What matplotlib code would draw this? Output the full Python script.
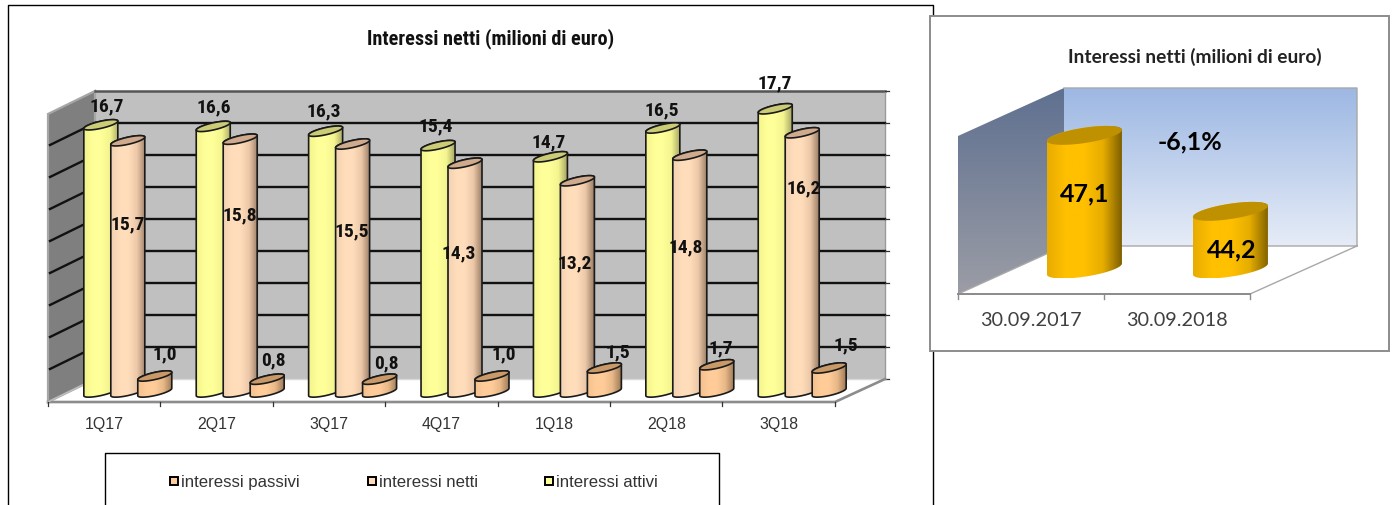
import numpy as np
import matplotlib
matplotlib.use('Agg')
import matplotlib.pyplot as plt
from matplotlib.colors import LinearSegmentedColormap
from matplotlib.patches import Polygon, Rectangle
from matplotlib.path import Path

quarters = ['1Q17', '2Q17', '3Q17', '4Q17', '1Q18', '2Q18', '3Q18']
attivi = [16.7, 16.6, 16.3, 15.4, 14.7, 16.5, 17.7]
netti = [15.7, 15.8, 15.5, 14.3, 13.2, 14.8, 16.2]
passivi = [1.0, 0.8, 0.8, 1.0, 1.5, 1.7, 1.5]

dates = ['30.09.2017', '30.09.2018']
netti_9m = [47.1, 44.2]
variazione = '-6,1%'

grid_values = list(range(0, 20, 2))

# hand placed label offsets in pixels (dx, dy up from the top of the bar)
attivi_off = [(6, 19), (1, 20), (-2, 21), (-2, 20), (-2, 15), (-1, 19), (0, 26)]
netti_off = [(0, -83), (0, -75), (-1, -86), (-6, -89), (-3, -82), (-4, -91), (1, -55)]
passivi_off = [(10, 23), (6, 20), (7, 17), (12, 23), (13, 17), (4, 17), (17, 24)]

W, H = 1394, 506
NARROW = ['Roboto Condensed']
ARIAL = ['Liberation Sans']
CALIBRI = ['Lato', 'Open Sans']


def fmt(v):
    return f'{v:.1f}'.replace('.', ',')


def vgrad(ax, poly, top, bottom, z=1):
    # vertical gradient clipped to a polygon
    xs, ys = zip(*poly)
    cmap = LinearSegmentedColormap.from_list('g', [top, bottom])
    im = ax.imshow(np.linspace(0, 1, 128).reshape(-1, 1), cmap=cmap, aspect='auto',
                   extent=(min(xs), max(xs), max(ys), min(ys)), zorder=z, interpolation='bilinear')
    im.set_clip_path(Polygon(poly, transform=ax.transData))


def cylinder(ax, x, val, base, sx, sy, a, k, b, stops, top_col, edge=None, z=3):
    # sx, sy: pixels per data unit. a, k, b: half width, tilt, half height of the ellipse in pixels
    t = np.linspace(0, np.pi, 60)
    ex = x + a * np.cos(t) / sx
    tilt = k * np.cos(t) / sy
    round_y = b * np.sin(t) / sy
    back_y = val + tilt + round_y
    front_y = val + tilt - round_y
    low_y = base + tilt - round_y

    # outline: back of the top ellipse (right to left), then front of the foot (left to right)
    body = list(zip(ex, back_y)) + list(zip(ex[::-1], low_y[::-1]))
    cmap = LinearSegmentedColormap.from_list('c', stops)
    ys = [p[1] for p in body]
    im = ax.imshow(np.linspace(0, 1, 128).reshape(1, -1), cmap=cmap, aspect='auto',
                   extent=(x - a / sx, x + a / sx, min(ys), max(ys)), zorder=z,
                   interpolation='bilinear', origin='lower')
    im.set_clip_path(Path(body + [body[0]]), ax.transData)
    if edge:
        ax.add_patch(Polygon(body, closed=True, fill=False, ec=edge, lw=1.2, zorder=z))
    cap = list(zip(ex, back_y)) + list(zip(ex[::-1], front_y[::-1]))
    ax.add_patch(Polygon(cap, closed=True, fc=top_col, ec=edge if edge else 'none', lw=1.2, zorder=z))


fig = plt.figure(figsize=(W / 100, H / 100), dpi=100)

# page axes in pixels for frames, walls and legend
page = fig.add_axes([0, 0, 1, 1], zorder=0)
page.set_xlim(0, W)
page.set_ylim(H, 0)
page.axis('off')

# left chart: frame
page.plot([8, 8, 933, 933], [H, 6, 6, H], color='black', lw=1)
page.text(491, 39, 'Interessi netti (milioni di euro)', family=NARROW, weight='bold', fontsize=14.6,
          ha='center', va='center', color='#111111')

# left chart: walls and floor
GRID_Y0, GRID_STEP = 380, 16
top_y = GRID_Y0 - GRID_STEP * grid_values[-1]
page.add_patch(Rectangle((95, top_y), 790, GRID_Y0 - top_y, fc='#c0c0c0', ec='none'))
page.add_patch(Polygon([(48, top_y + 23), (95, top_y), (95, GRID_Y0), (48, GRID_Y0 + 23)], fc='#7f7f7f', ec='#a6a6a6', lw=1.6))
page.plot([95, 885], [top_y, top_y], color='#555555', lw=1.8)
page.plot([885, 885], [top_y, GRID_Y0], color='#9a9a9a', lw=1)
for g in grid_values[1:-1]:
    y = GRID_Y0 - GRID_STEP * g
    page.plot([50, 95], [y + 22, y], color='#111111', lw=1.7)
    page.plot([95, 885], [y, y], color='#111111', lw=1.7)
for g in grid_values:
    y = GRID_Y0 - GRID_STEP * g
    page.plot([885, 889], [y, y], color='#333333', lw=0.9)
page.plot([95, 885], [GRID_Y0, GRID_Y0], color='#d8d8d8', lw=1)
page.plot([48, 835, 885], [403, 403, GRID_Y0], color='#8c8c8c', lw=1.9)
page.plot([48, 95], [403, GRID_Y0], color='#bdbdbd', lw=1)

# legend box
page.plot([105, 105, 719, 719], [H, 454, 454, H], color='black', lw=1)
legend_items = [('interessi passivi', '#ffcc99', 170), ('interessi netti', '#ffddbb', 368), ('interessi attivi', '#ffff99', 545)]
for name, col, lx in legend_items:
    page.add_patch(Rectangle((lx, 478), 8, 8, fc=col, ec='black', lw=1.4))
    page.text(lx + 11, 482.5, name, family=ARIAL, fontsize=12.1, color='#333333', va='center')

# left chart: bars, x is the category position along the floor
SX, SY = 112.4, 16.0
X0, Y0 = 48, 393
ax = fig.add_axes([0, 0, 1, 1], zorder=1)
ax.set_xlim(-X0 / SX, (W - X0) / SX)
ax.set_ylim((Y0 - H) / SY, Y0 / SY)
ax.axis('off')
ax.patch.set_alpha(0)

series = [
    (attivi, 0.47, ['#f4f48c', '#ffff99', '#ffff99', '#f4f490', '#a8a866'], '#cccc77', attivi_off),
    (netti, 0.71, ['#f2d2b2', '#ffddbb', '#ffddbb', '#ecc8a8', '#9c8068'], '#d0aa8c', netti_off),
    (passivi, 0.95, ['#f2c08e', '#ffcc99', '#ffcc99', '#e8b888', '#a07c58'], '#c99a68', passivi_off),
]
for i, q in enumerate(quarters):
    for vals, off, stops, top_col, offs in series:
        x = i + off
        cylinder(ax, x, vals[i], 0, SX, SY, 17, 3.7, 3.6, stops, top_col, edge='#1a1a1a', z=3 + off)
        ax.text(x + offs[i][0] / SX, vals[i] + offs[i][1] / SY, fmt(vals[i]), family=NARROW, weight='bold',
                fontsize=14, ha='center', va='center', color='#111111', zorder=6)
    ax.text(i + 0.5, -31.5 / SY, q, family=ARIAL, fontsize=11.4, ha='center', va='center', color='#333333')
for i in range(len(quarters) + 1):
    ax.plot([i, i], [-10 / SY, -14 / SY], color='#333333', lw=0.9)

# right chart: frame and walls
page.add_patch(Rectangle((930, 17), 459, 334.5, fc='white', ec='#8c8c8c', lw=1.4, zorder=2))
page.text(1195, 57, 'Interessi netti (milioni di euro)', family=CALIBRI, weight='bold', fontsize=13.8,
          ha='center', va='center', color='#222222', zorder=3)
vgrad(page, [(1064, 89), (1357, 89), (1357, 247), (1064, 247)], '#9db8e3', '#e6ecf7', z=3)
vgrad(page, [(958, 137), (1064, 89), (1064, 247), (958, 295)], '#5f7090', '#9b9da6', z=3)
page.plot([1064, 1357, 1357, 1250, 958, 1064, 1357], [89, 89, 247, 295, 295, 247, 247], color='#a8a8a8', lw=1, zorder=4)
page.plot([958, 1250], [295, 295], color='#8c8c8c', lw=1.4, zorder=4)
page.set_xlim(0, W)
page.set_ylim(H, 0)

# right chart: bars on an axis cut at 42
SX2, SY2 = 146.0, 26.2
X02, Y02, BASE2 = 958, 270, 42
ax2 = fig.add_axes([0, 0, 1, 1], zorder=2)
ax2.set_xlim(-X02 / SX2, (W - X02) / SX2)
ax2.set_ylim(BASE2 + (Y02 - H) / SY2, BASE2 + Y02 / SY2)
ax2.axis('off')
ax2.patch.set_alpha(0)
gold = ['#e8ac00', '#ffc000', '#ffc000', '#e6ad00', '#7f6000']
for i, d in enumerate(dates):
    x = i + 0.866
    cylinder(ax2, x, netti_9m[i], BASE2, SX2, SY2, 37.5, 5.5, 7.7, gold, '#bf9000')
    ax2.text(i + 0.5, BASE2 + (Y02 - 321) / SY2, d, family=CALIBRI, fontsize=14.3,
             ha='center', va='center', color='#404040')
    ax2.plot([i, i], [BASE2 + (Y02 - 295) / SY2, BASE2 + (Y02 - 300) / SY2], color='#8c8c8c', lw=1)
ax2.plot([2, 2], [BASE2 + (Y02 - 295) / SY2, BASE2 + (Y02 - 300) / SY2], color='#8c8c8c', lw=1)
ax2.text(0.866 + 0.005, netti_9m[0] - (195 - 137) / SY2, fmt(netti_9m[0]), family=CALIBRI, weight='bold',
         fontsize=18, ha='center', va='center', color='black', zorder=6)
ax2.text(1.866 + 0.01, netti_9m[1] - (250 - 212) / SY2, fmt(netti_9m[1]), family=CALIBRI, weight='bold',
         fontsize=18, ha='center', va='center', color='black', zorder=6)
page.text(1190, 142, variazione, family=CALIBRI, weight='bold', fontsize=18, ha='center', va='center',
          color='black', zorder=5)

fig.savefig('out.png', dpi=100)
